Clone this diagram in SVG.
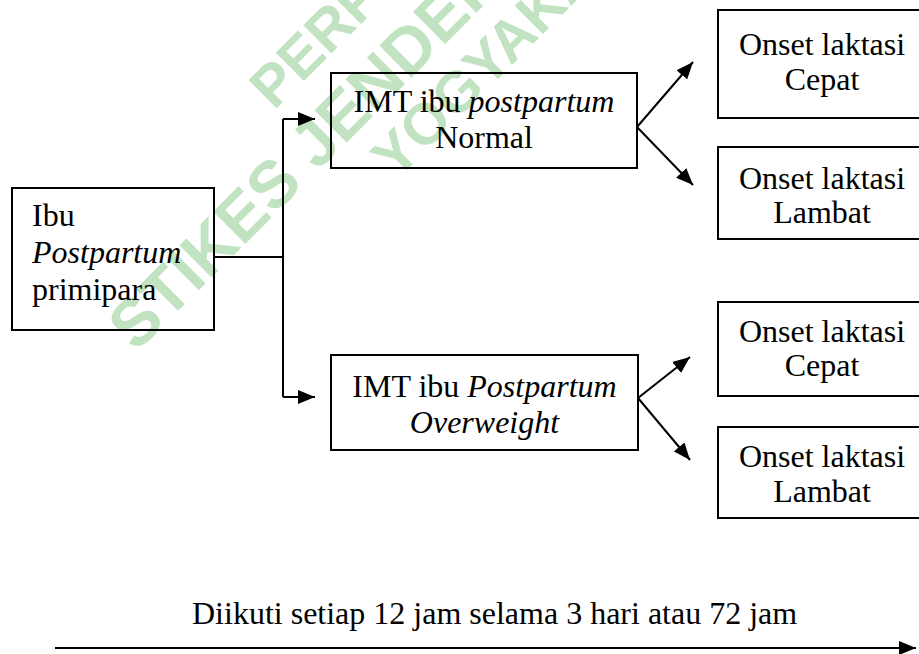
<svg xmlns="http://www.w3.org/2000/svg" width="919" height="654" viewBox="0 0 919 654">
<style>
.box{fill:none;stroke:#000;stroke-width:2}
.t{font-family:"Liberation Serif","Times New Roman",serif;font-size:32px;fill:#000}
.c{text-anchor:middle}
.i{font-style:italic}
.ln{fill:none;stroke:#000;stroke-width:2}
.wm{font-family:"Liberation Sans",Arial,sans-serif;font-weight:bold;fill:#c2e3c2}
</style>
<defs>
<marker id="ah" markerWidth="18" markerHeight="14" refX="17" refY="7" orient="auto" markerUnits="userSpaceOnUse">
<path d="M0,0 L17,7 L0,14 z" fill="#000"/>
</marker>
</defs>
<rect width="919" height="654" fill="#fff"/>
<g id="watermark">
<text class="wm" font-size="58" transform="translate(274,111) rotate(-45)">PERPUSTAKAAN</text>
<text class="wm" font-size="66" transform="translate(136,353) rotate(-45)">STIKES JENDERAL ACHMAD YANI</text>
<text class="wm" font-size="58" transform="translate(396,181) rotate(-45)">YOGYAKARTA</text>
</g>
<g id="connectors">
<path class="ln" d="M214,257 H283 M283,119 V397"/>
<path class="ln" d="M283,119 H315" marker-end="url(#ah)"/>
<path class="ln" d="M283,397 H315" marker-end="url(#ah)"/>
<path class="ln" d="M637,127 L693,62" marker-end="url(#ah)"/>
<path class="ln" d="M637,127 L693,185" marker-end="url(#ah)"/>
<path class="ln" d="M638,398 L690,357" marker-end="url(#ah)"/>
<path class="ln" d="M638,398 L690,460" marker-end="url(#ah)"/>
<path class="ln" d="M55,648 H916" stroke-width="2.5" marker-end="url(#ah)"/>
</g>
<g id="ibu">
<rect class="box" x="12" y="188" width="202" height="142"/>
<text class="t" x="32" y="226">Ibu</text>
<text class="t i" x="32" y="263">Postpartum</text>
<text class="t" x="32" y="300">primipara</text>
</g>
<g id="imt-normal">
<rect class="box" x="331" y="73" width="306" height="95"/>
<text class="t c" x="484" y="112">IMT ibu <tspan class="i">postpartum</tspan></text>
<text class="t c" x="484" y="148">Normal</text>
</g>
<g id="imt-overweight">
<rect class="box" x="331" y="355" width="307" height="95"/>
<text class="t c" x="484.5" y="397">IMT ibu <tspan class="i">Postpartum</tspan></text>
<text class="t c i" x="484.5" y="433">Overweight</text>
</g>
<g id="n-cepat-1">
<rect class="box" x="718" y="10" width="212" height="108"/>
<text class="t c" x="822" y="55">Onset laktasi</text>
<text class="t c" x="822" y="90">Cepat</text>
</g>
<g id="n-lambat-1">
<rect class="box" x="718" y="147" width="212" height="92"/>
<text class="t c" x="822" y="189">Onset laktasi</text>
<text class="t c" x="822" y="223">Lambat</text>
</g>
<g id="n-cepat-2">
<rect class="box" x="718" y="302" width="212" height="94"/>
<text class="t c" x="822" y="342">Onset laktasi</text>
<text class="t c" x="822" y="376">Cepat</text>
</g>
<g id="n-lambat-2">
<rect class="box" x="718" y="427" width="212" height="91"/>
<text class="t c" x="822" y="467">Onset laktasi</text>
<text class="t c" x="822" y="502">Lambat</text>
</g>
<g id="caption">
<text class="t" x="192" y="624">Diikuti setiap 12 jam selama 3 hari atau 72 jam</text>
</g>
</svg>
